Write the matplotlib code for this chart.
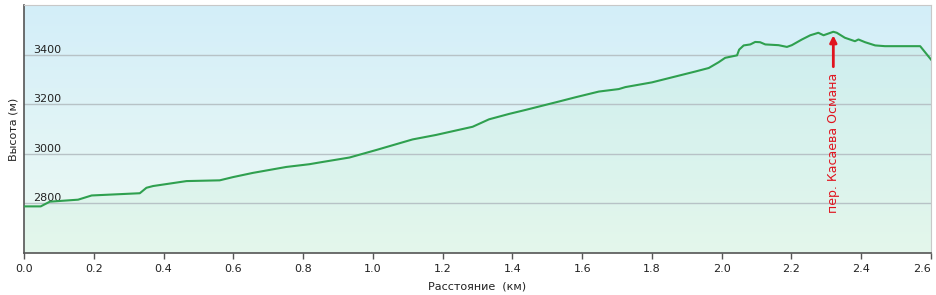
import numpy as np
import matplotlib
matplotlib.use("Agg")
import matplotlib.pyplot as plt
from matplotlib.colors import LinearSegmentedColormap

# profile
dist_km = [0.0, 0.048, 0.074, 0.155, 0.194, 0.332, 0.351, 0.37, 0.466, 0.561,
           0.599, 0.656, 0.752, 0.818, 0.847, 0.933, 1.009, 1.114, 1.181, 1.286,
           1.333, 1.391, 1.438, 1.534, 1.581, 1.648, 1.705, 1.724, 1.8, 1.925,
           1.963, 1.991, 2.01, 2.044, 2.05, 2.063, 2.082, 2.096, 2.11, 2.125,
           2.163, 2.187, 2.201, 2.23, 2.254, 2.268, 2.277, 2.292, 2.32, 2.33,
           2.353, 2.382, 2.392, 2.411, 2.44, 2.468, 2.569, 2.6]
elev_m = [2788, 2788, 2807, 2815, 2832, 2841, 2863, 2870, 2890, 2893,
          2906, 2923, 2947, 2958, 2965, 2985, 3015, 3058, 3076, 3109,
          3139, 3161, 3177, 3211, 3228, 3251, 3261, 3269, 3288, 3332,
          3346, 3369, 3387, 3397, 3420, 3437, 3441, 3451, 3450, 3441,
          3438, 3431, 3438, 3461, 3478, 3484, 3488, 3478, 3492, 3488,
          3468, 3454, 3461, 3450, 3437, 3434, 3434, 3380]

x_ticks = [0.0, 0.2, 0.4, 0.6, 0.8, 1.0, 1.2, 1.4, 1.6, 1.8, 2.0, 2.2, 2.4, 2.6]
y_ticks = [2800, 3000, 3200, 3400]

pass_km = 2.32
pass_elev = 3489
pass_name = "пер. Касаева Османа"


def main():
    fig = plt.figure(figsize=(9.37, 2.95), dpi=100)
    ax = fig.add_axes([24 / 937, 1 - 253 / 295, 907 / 937, 248 / 295])

    xmin, xmax = 0.0, 2.6
    ymin, ymax = 2600, 3600
    ax.set_xlim(xmin, xmax)
    ax.set_ylim(ymin, ymax)

    # background gradient: blue at top, pale green at bottom
    cmap = LinearSegmentedColormap.from_list("bg", ["#eefaf3", "#d3eef9"])
    grad = np.linspace(0, 1, 256).reshape(-1, 1)
    ax.imshow(grad, extent=(xmin, xmax, ymin, ymax), origin="lower",
              aspect="auto", cmap=cmap, zorder=0)

    ax.fill_between(dist_km, elev_m, ymin, color="#6fdc8f", alpha=0.08,
                    linewidth=0, zorder=1)
    ax.plot(dist_km, elev_m, color="#2fa04f", linewidth=1.5, zorder=3)

    for y in y_ticks:
        ax.axhline(y, color="#b7c2c6", linewidth=1.0, zorder=2)

    ax.set_xticks(x_ticks)
    ax.set_xticklabels([f"{v:.1f}" for v in x_ticks])
    ax.set_yticks(y_ticks)
    ax.set_yticklabels([str(v) for v in y_ticks])
    ax.tick_params(axis="x", direction="out", length=4, width=1,
                   color="#555555", labelsize=8, labelcolor="#222222", pad=4)
    ax.tick_params(axis="y", length=0, pad=-6.5, labelsize=8,
                   labelcolor="#222222")
    for lab in ax.get_yticklabels():
        lab.set_horizontalalignment("left")
        lab.set_verticalalignment("bottom")
    # last x label sits left of its tick, as in the original
    ax.get_xticklabels()[-1].set_horizontalalignment("right")

    ax.spines["left"].set_color("#555555")
    ax.spines["bottom"].set_color("#555555")
    ax.spines["left"].set_linewidth(1.2)
    ax.spines["bottom"].set_linewidth(1.2)
    ax.spines["top"].set_color("#c8c8c8")
    ax.spines["right"].set_color("#c8c8c8")

    ax.set_xlabel("Расстояние  (км)", fontsize=8, color="#222222", labelpad=5)
    ax.set_ylabel("Высота (м)", fontsize=8, color="#222222", labelpad=4)

    # pass marker
    ax.annotate("", xy=(pass_km, pass_elev), xytext=(pass_km, 3340),
                arrowprops=dict(arrowstyle="-|>", color="#e0141e", lw=2,
                                mutation_scale=10), zorder=4)
    ax.text(pass_km, 3325, pass_name, rotation=90, ha="center", va="top",
            color="#e0141e", fontsize=9, zorder=4)

    fig.savefig("out.png", dpi=100)


if __name__ == "__main__":
    main()
